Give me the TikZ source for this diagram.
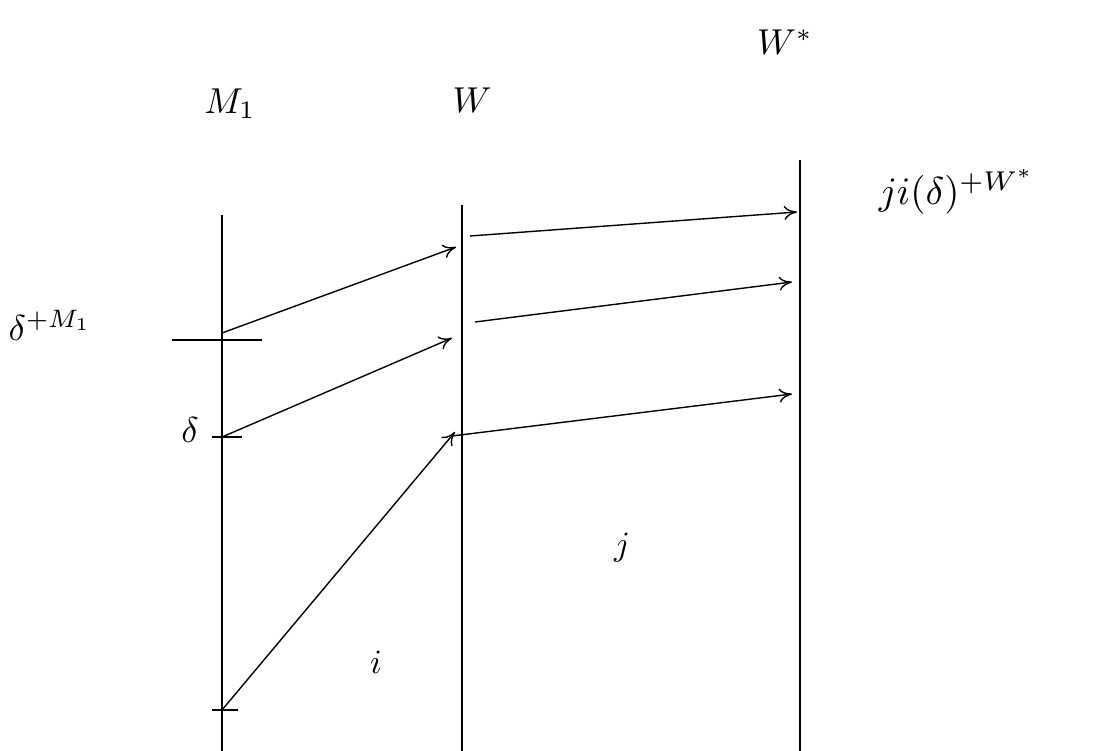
\documentclass[tikz,border=0pt]{standalone}
\usetikzlibrary{arrows.meta}
\begin{document}
\begin{tikzpicture}[x=1pt,y=-1pt,
  axis/.style={line width=2pt},
  map/.style={line width=1.4pt,-{To[length=13pt,width=14pt]}},
  tick/.style={line width=1.6pt},
  lab/.style={scale=3.6,inner sep=0pt},
  smalllab/.style={scale=3.4,inner sep=0pt}]
\useasboundingbox (0,0) rectangle (1097,751);
% axes
\coordinate (m1top) at (222,215); \coordinate (m1bot) at (222,751);
\coordinate (wtop) at (462,205); \coordinate (wbot) at (462,751);
\coordinate (wstop) at (800,160); \coordinate (wsbot) at (800,751);
\draw[axis] (m1top) -- (m1bot);
\draw[axis] (wtop) -- (wbot);
\draw[axis] (wstop) -- (wsbot);
% labels
\node[lab] (lM) at (230,104) {$M_1$};
\node[lab] (lW) at (472,100) {$W$};
\node[lab] (lWs) at (785,42) {$W^*$};
\node[lab,anchor=west] (ldp) at (8,325) {$\delta^{+M_1}$};
\node[lab] (ld) at (190,430) {$\delta$};
\node[lab,anchor=west,scale=1.08] (lj) at (878,192) {$ji(\delta)^{+W^*}$};
\node[smalllab] (li) at (376,662) {$i$};
\node[smalllab] (ljj) at (622,548) {$j$};
% points on M1
\coordinate (a1) at (222,333); \coordinate (a2) at (222,437); \coordinate (a3) at (222,710);
% ticks
\draw[tick] (172,340) -- (262,340);
\draw[tick] (212,437) -- (242,437);
\draw[tick] (212,710) -- (238,710);
% points on W
\coordinate (b1) at (456,247); \coordinate (b2) at (452,338); \coordinate (b3) at (455,432);
\coordinate (c1) at (470,236); \coordinate (c2) at (475,322); \coordinate (c3) at (452,436);
% points on W*
\coordinate (d1) at (797,212); \coordinate (d2) at (792,282); \coordinate (d3) at (792,394);
\draw[map] (a1) -- (b1);
\draw[map] (a2) -- (b2);
\draw[map] (a3) -- (b3);
\draw[map] (c1) -- (d1);
\draw[map] (c2) -- (d2);
\draw[map] (c3) -- (d3);
\end{tikzpicture}
\end{document}
